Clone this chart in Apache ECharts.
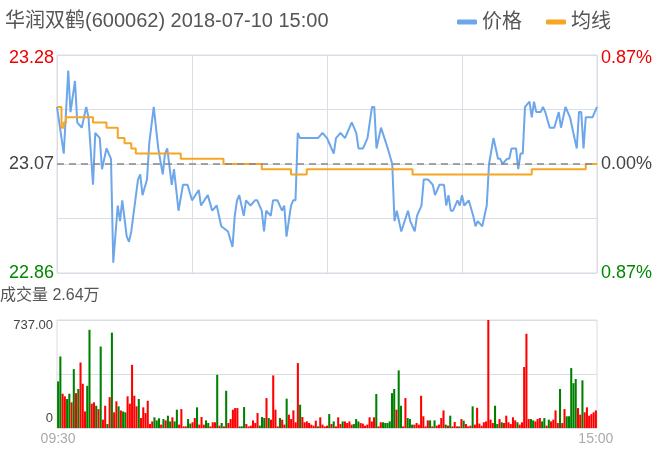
<!DOCTYPE html>
<html><head><meta charset="utf-8">
<script src="https://cdn.jsdelivr.net/npm/echarts@6/dist/echarts.min.js"></script>
<style>html,body{margin:0;padding:0;background:#fff}#c{width:660px;height:464px}</style>
</head><body><div id="c"></div>
<script>
var titleText = '华润双鹤(600062) 2018-07-10 15:00';
var volText = '成交量 2.64万';
var leftLabels = ['22.86', '23.07', '23.28'];
var rightLabels = ['0.87%', '0.00%', '0.87%'];
var volLabels = ['0', '737.00'];
var timeLabels = ['09:30', '15:00'];
var priceMin = [0,3,5,6,8,9,11,13,14,16,17,19,20,22,24,25,27,28,29,31,32,33,36,37,38,40,41,43,45,47,48,49,51,52,54,56,58,60,63,64,67,69,71,73,76,78,79,80,81,83,84,86,88,89,91,92,93,95,96,98,100,101,102,104,105,106,107,108,116,118,120,121,123,124,126,128,131,133,134,136,138,140,141,142,144,147,149,150,151,153,156,157,159,160,162,163,165,167,168,170,172,173,174,175,176,178,179,180,181,183,185,186,187,189,191,192,194,196,197,198,200,201,202,204,205,206,207,208,210,211,212,213,215,216,217,219,221,223,224,226,228,229,231,232,233,234,235,238,240];
var priceVal = [23.18,23.09,23.25,23.17,23.23,23.15,23.14,23.18,23.16,23.03,23.13,23.12,23.06,23.10,23.08,22.88,22.99,22.96,23.00,22.93,22.92,22.94,23.04,23.05,23.01,23.04,23.11,23.18,23.10,23.05,23.09,23.10,23.03,23.06,22.98,23.03,23.03,23.00,23.02,22.99,23.01,22.98,22.99,22.95,22.94,22.91,22.97,23.00,23.01,22.97,23.00,22.99,23.00,23.00,22.98,22.94,22.98,22.97,23.00,23.00,22.98,22.99,22.93,22.99,23.00,23.00,23.13,23.12,23.12,23.13,23.12,23.11,23.09,23.12,23.13,23.12,23.15,23.13,23.10,23.10,23.12,23.18,23.18,23.10,23.14,23.10,23.07,22.96,22.98,22.94,22.98,22.96,22.94,22.97,22.99,23.04,23.04,23.03,23.01,23.03,23.03,22.99,23.01,22.98,22.98,23.00,22.99,23.01,22.99,23.00,22.97,22.95,22.96,22.95,22.99,23.07,23.12,23.08,23.08,23.07,23.08,23.08,23.10,23.10,23.06,23.09,23.09,23.18,23.19,23.16,23.19,23.17,23.17,23.18,23.17,23.14,23.14,23.17,23.14,23.18,23.16,23.14,23.10,23.17,23.17,23.10,23.16,23.16,23.18];
var avgMin = [0,2,3,4,16,22,27,30,33,35,55,74,91,104,111,158,211,235,240];
var avgVal = [23.18,23.14,23.15,23.16,23.15,23.14,23.12,23.11,23.10,23.09,23.08,23.07,23.06,23.05,23.06,23.05,23.06,23.07,23.07];
var vol = [318,488,234,216,198,234,175,402,238,266,447,302,113,288,670,166,175,152,129,556,57,152,27,211,651,107,182,148,120,113,107,216,166,431,220,148,198,68,141,102,186,27,45,73,52,66,23,61,52,84,45,73,45,125,23,129,11,11,61,30,39,68,141,23,75,23,52,34,11,39,39,363,16,34,11,254,34,61,125,136,
136,11,11,143,27,11,16,52,34,102,16,75,68,204,68,57,359,125,11,68,57,23,200,91,61,120,39,443,159,75,39,45,34,23,16,50,11,73,23,11,16,95,27,45,11,73,27,45,45,34,45,23,27,61,45,34,30,16,23,73,45,73,232,11,39,39,34,34,45,238,266,125,393,152,11,204,68,61,23,23,34,
23,220,80,11,52,52,11,52,16,23,68,120,23,16,84,11,41,11,11,61,50,27,11,16,148,23,138,30,16,39,45,737,57,34,152,27,61,39,34,84,39,27,73,52,39,23,39,416,643,61,61,52,45,61,68,45,68,16,57,45,57,120,34,266,34,129,80,80,409,306,334,136,91,325,107,141,84,95,107,120];
var up = [0,0,1,1,0,0,1,0,1,0,1,1,1,0,0,1,1,0,1,0,1,1,0,1,0,1,1,0,1,0,0,1,1,1,1,1,0,1,1,1,1,1,1,0,0,0,1,0,1,0,0,1,0,0,1,1,1,1,0,0,1,1,0,1,1,1,0,0,1,1,1,0,1,0,1,0,1,1,1,1,
1,0,0,0,1,1,1,1,1,1,0,0,0,1,0,1,1,1,1,0,1,1,0,1,1,1,1,1,0,1,1,1,1,1,1,1,0,1,1,1,1,0,1,0,1,1,1,0,1,1,1,1,0,0,0,1,1,1,1,1,1,1,0,1,1,0,0,0,0,0,0,1,0,0,1,1,0,0,0,1,1,
1,1,1,1,1,0,1,0,1,1,1,1,0,1,0,1,1,1,0,1,0,1,1,1,0,1,1,1,1,1,1,1,1,1,0,0,1,0,1,1,1,1,1,1,0,1,1,1,1,1,0,0,1,1,1,0,0,1,0,1,1,1,1,0,1,1,0,0,0,0,0,1,1,0,1,1,1,1,1,1];

var cats = vol.map(function(v,i){return i;});
var chart = echarts.init(document.getElementById('c'));
var gl = '#d9dde6';
var ff = '"Liberation Sans","Noto Sans CJK SC",sans-serif';
chart.setOption({
  animation:false,
  textStyle:{fontFamily:ff},
  title:{text:titleText,left:0,top:6,textStyle:{fontSize:20,fontWeight:'normal',color:'#555',fontFamily:ff}},
  legend:{right:44,top:7,itemWidth:20,itemHeight:5,itemGap:24,textStyle:{fontSize:20,color:'#555',fontFamily:ff},icon:'roundRect',
    data:['价格','均线']},
  graphic:[{type:'text',left:0,top:288,style:{text:volText,fontSize:16,fill:'#555',fontFamily:ff}}],
  grid:[{left:57,right:63,top:55,height:218,show:true,borderColor:gl,borderWidth:1},
        {left:57,right:63,top:320,height:108,show:true,borderColor:gl,borderWidth:1}],
  xAxis:[{type:'value',gridIndex:0,min:0,max:240,interval:60,axisLine:{show:false},axisTick:{show:false},axisLabel:{show:false},splitLine:{lineStyle:{color:gl}}},
         {type:'category',gridIndex:1,data:cats,boundaryGap:true,axisLine:{show:false},axisTick:{show:false},
          axisLabel:{interval:0,fontSize:14,color:'#aaa',margin:4,fontFamily:ff,formatter:function(v,i){return i===0?timeLabels[0]:(i===240?timeLabels[1]:'');}}}],
  yAxis:[{type:'value',gridIndex:0,min:22.86,max:23.28,interval:0.105,axisLine:{show:false},axisTick:{show:false},splitLine:{lineStyle:{color:gl}},
          axisLabel:{fontSize:18,margin:3,fontFamily:ff,formatter:function(v){var k=Math.round((v-22.86)/0.105);if(k===0)return '{g|'+leftLabels[0]+'}';if(k===2)return '{n|'+leftLabels[1]+'}';if(k===4)return '{r|'+leftLabels[2]+'}';return '';},
            rich:{r:{color:'#e00',fontSize:18,padding:[6,0,0,0]},g:{color:'#080',fontSize:18},n:{color:'#444',fontSize:18}}}},
         {type:'value',gridIndex:0,position:'right',min:22.86,max:23.28,interval:0.105,axisLine:{show:false},axisTick:{show:false},splitLine:{show:false},
          axisLabel:{fontSize:18,margin:4,fontFamily:ff,formatter:function(v){var k=Math.round((v-22.86)/0.105);if(k===0)return '{g|'+rightLabels[0]+'}';if(k===2)return '{n|'+rightLabels[1]+'}';if(k===4)return '{r|'+rightLabels[2]+'}';return '';},
            rich:{r:{color:'#e00',fontSize:18,padding:[6,0,0,0]},g:{color:'#080',fontSize:18},n:{color:'#444',fontSize:18}}}},
         {type:'value',gridIndex:1,min:0,max:737,interval:368.5,axisLine:{show:false},axisTick:{show:false},splitLine:{lineStyle:{color:gl}},
          axisLabel:{fontSize:13,color:'#444',margin:4,fontFamily:ff,formatter:function(v){if(v===0)return '{z|'+volLabels[0]+'}';if(v>700)return '{t|'+volLabels[1]+'}';return '';},
            rich:{z:{fontSize:13,color:'#444',padding:[0,0,20,0]},t:{fontSize:13,color:'#444',padding:[10,0,0,0]}}}}],
  series:[
    {name:'价格',type:'line',xAxisIndex:0,yAxisIndex:0,showSymbol:false,symbol:'none',lineStyle:{color:'#6ea6ea',width:2},itemStyle:{color:'#6ea6ea'},
     data:priceMin.map(function(m,i){return [m,priceVal[i]];}),
     markLine:{silent:true,symbol:'none',label:{show:false},lineStyle:{color:'#888',type:[7,5],width:1.6},data:[{yAxis:23.07}]}},
    {name:'均线',type:'line',xAxisIndex:0,yAxisIndex:0,step:'end',showSymbol:false,symbol:'none',lineStyle:{color:'#f5a623',width:2},itemStyle:{color:'#f5a623'},
     data:avgMin.map(function(m,i){return [m,avgVal[i]];})},
    {type:'bar',xAxisIndex:1,yAxisIndex:2,barWidth:'92%',
     data:vol.map(function(v,i){return {value:v,itemStyle:{color:up[i]?'#ff0000':'#008000'}};})}
  ]
});
</script></body></html>
